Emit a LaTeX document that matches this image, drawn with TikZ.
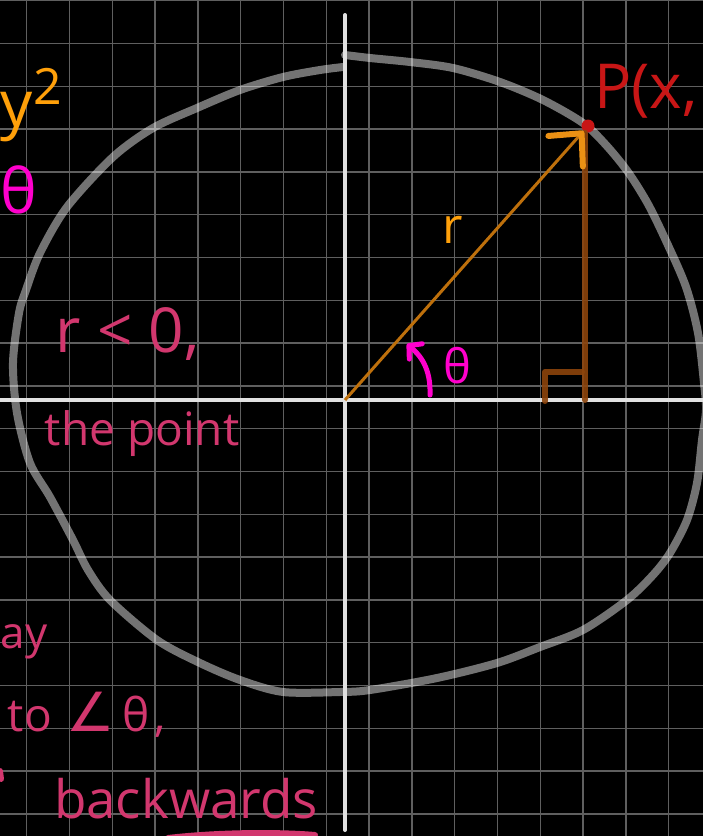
\documentclass[tikz,border=0pt]{standalone}
\usepackage{fontspec}
\setmainfont{Open Sans}
\newfontfamily\symfont{DejaVu Sans}
\usepackage{xcolor}
\usetikzlibrary{arrows.meta}

\definecolor{gridgray}{RGB}{95,95,95}
\definecolor{axisgray}{RGB}{225,225,225}
\definecolor{radorange}{RGB}{190,112,12}
\definecolor{tiporange}{RGB}{235,145,20}
\definecolor{legbrown}{RGB}{140,68,12}
\definecolor{ptred}{RGB}{200,22,22}
\definecolor{handpink}{RGB}{210,55,110}
\definecolor{handmag}{RGB}{255,0,204}
\definecolor{handorange}{RGB}{255,160,10}

\newcommand{\fsz}[1]{\fontsize{#1}{#1}\selectfont}

\begin{document}
\begin{tikzpicture}[x=1pt, y=-1pt,
  gridln/.style={draw=gridgray, line width=1.3pt},
  axisln/.style={draw=axisgray, line width=4pt, line cap=round},
  curve/.style={draw=white, draw opacity=0.45, line width=8pt, line cap=round, line join=round},
  rad/.style={draw=radorange, line width=3pt, -{Straight Barb[length=24pt, width=46pt, line width=6pt, round, color=tiporange]}},
  leg/.style={draw=legbrown, draw opacity=0.9, line width=6pt, line cap=round, line join=round},
  thetaarr/.style={draw=handmag, line width=5pt, line cap=round, -{Straight Barb[length=9pt, width=20pt, line width=5pt, round]}},
  hand/.style={inner sep=0pt, outer sep=0pt, anchor=base west},
  pinkln/.style={draw=handpink, line width=6pt, line cap=round}
]

% page and background
\useasboundingbox (0,0) rectangle (703,836);
\clip (0,0) rectangle (703,836);
\fill[black] (0,0) rectangle (703,836);

% grid
\foreach \i in {0,...,16} {
  \draw[gridln] (26.7+42.8*\i,0) -- (26.7+42.8*\i,836);
}
\foreach \j in {0,...,19} {
  \draw[gridln] (0,0.7+42.8*\j) -- (703,0.7+42.8*\j);
}

% hand drawn circle
\draw[curve] plot[smooth] coordinates {
  (345,55) (370,58) (410,62) (453,68) (500,82) (543,100) (583,123)
  (606,145) (628,172) (648,204) (667,243) (686,287) (698,333) (704,383)
  (706,410) (702,440) (697,483) (687,520) (670,553) (653,575) (627,600)
  (583,630) (540,647) (497,663) (437,678) (370,690) (340,692) (283,692)
  (240,680) (200,663) (157,640) (110,600) (88,570) (73,540) (50,497)
  (30,463) (17,413) (13,363) (19,313) (26,290) (40,253) (67,207)
  (113,157) (153,128) (197,108) (240,90) (283,77) (320,70) (343,67)};

% axes
\coordinate (O) at (345,400);
\coordinate (xl) at (-5,400);
\coordinate (xr) at (710,400);
\coordinate (yt) at (345,15);
\coordinate (yb) at (345,830);
\draw[axisln] (xl) -- (xr);
\draw[axisln] (yt) -- (yb);

% point P, leg and right angle
\node[circle, fill=ptred, minimum size=13pt, inner sep=0pt] (P) at (588,126) {};
\coordinate (F) at (585,400);
\coordinate (ra1) at (545,401);
\coordinate (ra2) at (582,372);
\draw[leg] (F) -- (F |- P.south);
\draw[leg] (ra1) |- (ra2);

% radius
\draw[rad] (O) -- (P);

% angle arrow
\coordinate (th0) at (430,395);
\coordinate (th1) at (407,344);
\draw[thetaarr] (th0) .. controls (431,368) and (420,355) .. (th1);

% labels
\node[hand, text=ptred] (Plab) at (594,108) {\fsz{62}P(x,};
\node[hand, text=handorange] (rlab) at (442,243) {\fsz{50}r};
\node[hand, text=handmag] (thlab) at (443,383) {\fsz{47}θ};

% notes on the left
\node[hand, text=handorange] (ysq) at (1,126) {\fsz{64}y\raisebox{22pt}{\fsz{50}2}};
\node[hand, text=handmag] (thl) at (1,213) {\fsz{62}θ};
\node[hand, text=handpink] (rneg) at (56,352) {\fsz{62}r < 0,};
\node[hand, text=handpink] (thept) at (45,445) {\fsz{46}the point};
\node[hand, text=handpink] (ay) at (1,648) {\fsz{44}ay};
\node[hand, text=handpink] (toang) at (8,731) {\fsz{46}to\hspace{14pt}{\symfont\fsz{54}∠}\hspace{8pt}θ\hspace{5pt},};
\node[hand, text=handpink] (back) at (54,818) {\fsz{53}backwards};
\draw[pinkln] (168,838) .. controls (220,832) and (280,832) .. (315,835);
\draw[pinkln] (0,771) -- (1,779);

\end{tikzpicture}
\end{document}
